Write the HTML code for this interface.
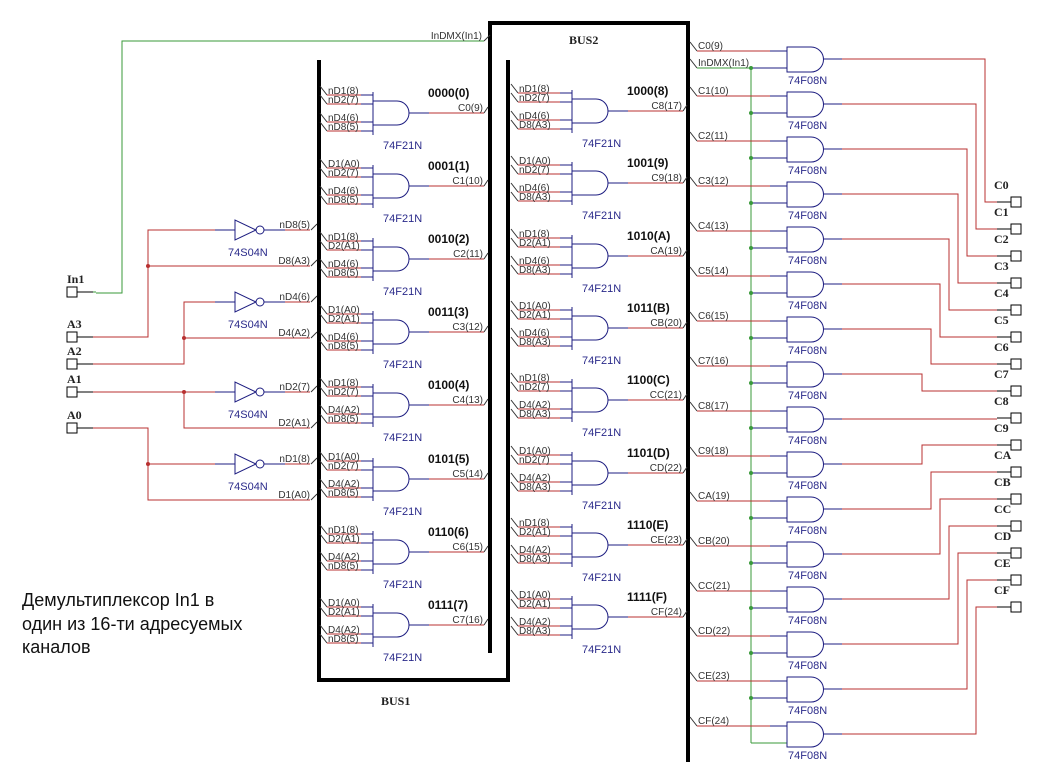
<!DOCTYPE html>
<html><head><meta charset="utf-8">
<style>
html,body{margin:0;padding:0;background:#fff;}
svg{display:block;}
text{font-family:"Liberation Sans",sans-serif;}
.l{font-size:10px;fill:#333;}
.t{font-size:12px;font-weight:bold;fill:#111;}
.p{font-size:11px;fill:#2a2a8a;}
.s{font-family:"Liberation Serif",serif;font-size:12px;font-weight:bold;fill:#222;}
</style></head>
<body>
<svg id="s" width="1064" height="782" viewBox="0 0 1064 782" xmlns="http://www.w3.org/2000/svg">
<text x="22" y="606" style="font-size:18px;fill:#111" font-family="Liberation Sans, Noto Sans CJK SC, sans-serif">Демультиплексор In1 в</text>
<text x="22" y="630" style="font-size:18px;fill:#111" font-family="Liberation Sans, Noto Sans CJK SC, sans-serif">один из 16-ти адресуемых</text>
<text x="22" y="653" style="font-size:18px;fill:#111" font-family="Liberation Sans, Noto Sans CJK SC, sans-serif">каналов</text>
</svg>
<script>
var s=document.getElementById('s'),NS='http://www.w3.org/2000/svg';
var R='#b83030',B='#1c1c80',G='#3a9a3a',K='#000';
function el(n,a,t){var e=document.createElementNS(NS,n);for(var k in a)e.setAttribute(k,a[k]);if(t!==undefined)e.textContent=t;s.appendChild(e);return e;}
function ln(x1,y1,x2,y2,c,w){el('line',{x1:x1,y1:y1,x2:x2,y2:y2,stroke:c,'stroke-width':w||1});}
function pl(pts,c,w){el('polyline',{points:pts,fill:'none',stroke:c,'stroke-width':w||1});}
function tx(x,y,t,c,anchor){var a={x:x,y:y,'class':c};if(anchor)a['text-anchor']=anchor;el('text',a,t);}
function dot(x,y,c){el('circle',{cx:x,cy:y,r:2,fill:c});}
pl('319,60 319,680 508,680 508,60',K,4);
pl('490,653 490,23 688,23 688,762',K,4);
el('text',{x:381,y:705,'class':'s','font-size':'11'},'BUS1');
el('text',{x:569,y:44,'class':'s'},'BUS2');
var ins=[['nD1(8)','D1(A0)'],['nD2(7)','D2(A1)'],['nD4(6)','D4(A2)'],['nD8(5)','D8(A3)']];
var titles='0000(0) 0001(1) 0010(2) 0011(3) 0100(4) 0101(5) 0110(6) 0111(7) 1000(8) 1001(9) 1010(A) 1011(B) 1100(C) 1101(D) 1110(E) 1111(F)'.split(' ');
var outs='C0(9) C1(10) C2(11) C3(12) C4(13) C5(14) C6(15) C7(16) C8(17) C9(18) CA(19) CB(20) CC(21) CD(22) CE(23) CF(24)'.split(' ');
var offs=[0,9,27,36];
for(var g=0;g<16;g++){
  var col=g<8?0:1,i=g%8;
  var y0=col?93+72.3*i:95+73.1*i; y0=Math.round(y0);
  var bx=col?572:373, busx=col?510:319, endx=col?686:487;
  for(var j=0;j<4;j++){
    var bit=(j<3)?((g>>j)&1):(col);
    var y=y0+offs[j];
    ln(busx+1,y-9,busx+8,y,'#333');
    ln(busx+8,y,bx-12,y,R); ln(bx-12,y,bx,y,B);
    tx(busx+9,y-1,ins[j][bit],'l');
  }
  ln(bx,y0-3,bx,y0+40,B);
  el('path',{d:'M'+bx+','+(y0+6)+' H'+(bx+24)+' A12,12 0 0 1 '+(bx+24)+','+(y0+30)+' H'+bx,fill:'none',stroke:B});
  ln(bx+36,y0+18,bx+56,y0+18,B); ln(bx+56,y0+18,endx-3,y0+18,R);
  ln(endx-3,y0+18,endx+1,y0+12,'#333');
  tx(endx-4,y0+16,outs[g],'l','end');
  tx(bx+55,y0+2,titles[g],'t');
  tx(bx+10,y0+54,'74F21N','p');
}
ln(751,68,751,743,G); ln(751,743,787,743,G);
var tnames='C0 C1 C2 C3 C4 C5 C6 C7 C8 C9 CA CB CC CD CE CF'.split(' ');
for(var k=0;k<16;k++){
  var a=51+45*k,b=a+17,o=a+8,ty=202+27*k;
  ln(690,a-9,697,a,'#333');
  ln(697,a,770,a,R); ln(770,a,787,a,B);
  tx(698,a-2,outs[k],'l');
  if(k==0){ln(690,b-9,697,b,'#333');ln(697,b,751,b,G);tx(698,b-2,'InDMX(In1)','l');}
  if(k<15){ln(751,b,787,b,B);dot(751,b,G);}
  el('path',{d:'M787,'+(a-4)+' H811 A12.5,12.5 0 0 1 811,'+(a+21)+' H787 Z',fill:'none',stroke:B});
  ln(823,o,842,o,B);
  var xk=k<8?985-9*k:(k==8?null:922+9*(k-9));
  if(xk===null){ln(842,o,997,o,R);}
  else pl('842,'+o+' '+xk+','+o+' '+xk+','+ty+' 997,'+ty,R);
  ln(997,ty,1011,ty,K);
  el('rect',{x:1011,y:ty-5,width:10,height:10,fill:'#fff',stroke:K});
  tx(994,ty-13,tnames[k],'s');
  tx(788,a+33,'74F08N','p');
}
pl('484,41 122,41 122,293 96,293',G);
ln(484,41,490,35,'#333');
tx(482,39,'InDMX(In1)','l','end');
function term(y,name){el('rect',{x:67,y:y-5,width:10,height:10,fill:'#fff',stroke:K});ln(77,y,93,y,K);tx(67,y-9,name,'s');}
term(292,'In1');ln(93,292,96,292,G);
term(337,'A3');term(364,'A2');term(392,'A1');term(428,'A0');
function inv(y){ln(215,y,235,y,B);el('polygon',{points:'235,'+(y-10)+' 235,'+(y+10)+' 256,'+y,fill:'none',stroke:B});
 el('circle',{cx:260,cy:y,r:4,fill:'#fff',stroke:B});ln(264,y,285,y,B);tx(228,y+26,'74S04N','p');}
var outL=[[230,'nD8(5)'],[266,'D8(A3)'],[302,'nD4(6)'],[338,'D4(A2)'],[392,'nD2(7)'],[428,'D2(A1)'],[464,'nD1(8)'],[500,'D1(A0)']];
[230,302,392,464].forEach(inv);
pl('93,337 148,337 148,230 215,230',R);dot(148,266,R);ln(148,266,310,266,R);
pl('93,364 184,364 184,302 215,302',R);dot(184,338,R);ln(184,338,310,338,R);
ln(93,392,215,392,R);dot(184,392,R);pl('184,392 184,428 310,428',R);
pl('93,428 148,428 148,500 310,500',R);dot(148,464,R);ln(148,464,215,464,R);
[230,302,392,464].forEach(function(y){ln(285,y,310,y,R);});
outL.forEach(function(p){tx(310,p[0]-2,p[1],'l','end');ln(311,p[0],317,p[0]-6,'#333');});
</script>
</body></html>
